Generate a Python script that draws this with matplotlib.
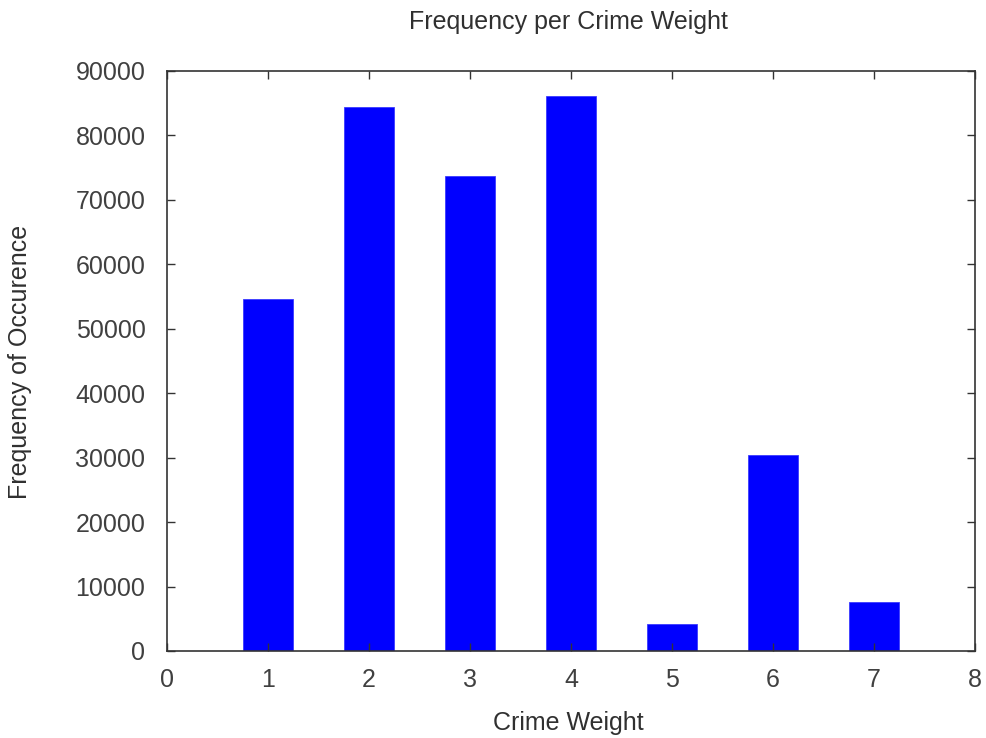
import matplotlib
matplotlib.use('Agg')
import matplotlib.pyplot as plt

weights = [1, 2, 3, 4, 5, 6, 7]
freq = [54600, 84400, 73700, 86100, 4200, 30400, 7600]

plt.rcParams['font.family'] = ['Liberation Sans', 'DejaVu Sans']
plt.rcParams['font.size'] = 18

fig = plt.figure(figsize=(9.87, 7.38), dpi=100)
ax = fig.add_axes([0.1692, 0.1179, 0.8186, 0.7859])
ax.bar(weights, freq, width=0.5, color='#0000ff', edgecolor='#3a3aff', linewidth=0.6)

ax.set_xlim(0, 8)
ax.set_ylim(0, 90000)
ax.set_xticks(range(0, 9))
ax.set_yticks(range(0, 90001, 10000))
ax.tick_params(direction='in', top=True, right=True, length=6, width=1,
               colors='#333333', labelcolor='#404040', pad=15.5)
ax.tick_params(axis='x', pad=12)
for s in ax.spines.values():
    s.set_linewidth(1.2)
    s.set_color('#333333')

fig.text(0.5755, 0.970, 'Frequency per Crime Weight', ha='center', va='center', color='#303030')
fig.text(0.5755, 0.021, 'Crime Weight', ha='center', va='center', color='#303030')
fig.text(0.020, 0.5095, 'Frequency of Occurence', ha='center', va='center', rotation=90, color='#303030')

fig.savefig('out.png', dpi=100)
